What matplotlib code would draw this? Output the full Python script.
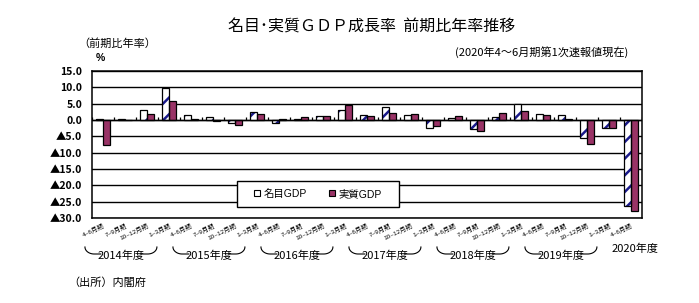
import matplotlib
matplotlib.use("Agg")
import matplotlib.pyplot as plt
import matplotlib.transforms as mtransforms
from matplotlib.patches import Rectangle, Patch
from matplotlib.lines import Line2D
import numpy as np

plt.rcParams['font.family'] = ['Liberation Sans', 'Noto Sans CJK JP', 'DejaVu Sans']
plt.rcParams['hatch.linewidth'] = 1.8

# ---- data ----
quarter_labels = ["4~6月期", "7~9月期", "10~12月期", "1~3月期"] * 6 + ["4~6月期"]
year_labels = ["2014年度", "2015年度", "2016年度", "2017年度", "2018年度", "2019年度"]
last_year_label = "2020年度"
nominal = [0.2, 0.2, 3.0, 9.8, 1.5, 0.8, -0.9, 2.6, -1.0, 0.4, 1.1, 3.1,
           1.5, 4.0, 1.4, -2.5, 0.5, -2.9, 0.8, 4.8, 1.8, 1.5, -5.5, -2.3, -26.3]
real = [-7.6, 0.1, 1.7, 5.8, 0.2, -0.3, -1.6, 1.7, 0.2, 0.8, 1.1, 4.7,
        1.1, 2.1, 1.8, -1.9, 1.1, -3.5, 2.0, 2.8, 1.5, 0.2, -7.4, -2.5, -27.8]
y_ticks = [15, 10, 5, 0, -5, -10, -15, -20, -25, -30]
y_ticklabels = ["15.0", "10.0", "5.0", "0.0", "▲5.0", "▲10.0", "▲15.0", "▲20.0", "▲25.0", "▲30.0"]
series_names = ["名目GDP", "実質GDP"]

W, H = 699, 303
fig = plt.figure(figsize=(W / 100, H / 100), dpi=100)
fig.patch.set_facecolor('white')

# axes placement in pixels
L, R, T, B = 92, 642, 71, 218
ax = fig.add_axes([L / W, 1 - B / H, (R - L) / W, (B - T) / H])

n = len(nominal)
x = np.arange(n)
bw = 0.3
navy = '#1a1a8c'
maroon = '#993366'

# nominal: white with navy hatch, black edge
ax.bar(x - bw / 2, nominal, bw, color='white', edgecolor=navy, hatch='//', linewidth=0, zorder=3)
ax.bar(x - bw / 2, nominal, bw, fill=False, edgecolor='black', linewidth=0.9, zorder=4)
# real: maroon, black edge
ax.bar(x + bw / 2, real, bw, color=maroon, edgecolor='black', linewidth=0.9, zorder=3)

ax.set_xlim(-0.5, n - 0.5)
ax.set_ylim(-30, 15)
ax.set_yticks(y_ticks)
ax.set_yticklabels(y_ticklabels, fontsize=7.5, fontweight='bold', family=['Noto Sans CJK JP'])
ax.yaxis.grid(True, color='black', linewidth=1.0, zorder=0)
ax.set_axisbelow(True)
ax.tick_params(axis='y', length=0, pad=7)

ax.set_xticks(x)
ax.set_xticklabels(quarter_labels, fontsize=4.6, rotation=25, ha='right', va='top',
                   rotation_mode='anchor')
ax.tick_params(axis='x', length=0, pad=3)
for s in ax.spines.values():
    s.set_linewidth(1.1)
    s.set_color('black')

# zero axis line with category boundary ticks
ax.axhline(0, color='black', linewidth=1.0, zorder=5)
ax.vlines(np.arange(n + 1) - 0.5, 0, 0.9, color='black', linewidth=0.9, zorder=5)

# legend box
bx0, by0, bx1, by1 = 237, 181, 399, 207
fig.patches.append(Rectangle((bx0 / W, 1 - by1 / H), (bx1 - bx0) / W, (by1 - by0) / H,
                             transform=fig.transFigure, facecolor='white', edgecolor='black',
                             linewidth=1.0, zorder=10))
handles = [Patch(facecolor='white', edgecolor='black', linewidth=0.8),
           Patch(facecolor=maroon, edgecolor='black', linewidth=0.8)]
leg = fig.legend(handles, series_names, loc='center', bbox_to_anchor=((bx0 + bx1) / 2 / W, 1 - (by0 + by1) / 2 / H),
                 ncol=2, frameon=False, fontsize=7.5, handlelength=0.55, handleheight=0.55,
                 handletextpad=0.3, columnspacing=2.2)
leg.set_zorder(11)

# texts
fig.text(372 / W, 1 - 27 / H, "名目･実質ＧＤＰ成長率  前期比年率推移", ha='center', va='center',
         fontsize=11.5, family=['Noto Sans CJK JP'])
fig.text(78 / W, 1 - 44 / H, "（前期比年率）", ha='left', va='center', fontsize=8,
         family=['Noto Sans CJK JP'])
fig.text(96 / W, 1 - 58 / H, "%", ha='left', va='center', fontsize=7.5, fontweight='bold')
fig.text(628 / W, 1 - 52 / H, "(2020年4～6月期第1次速報値現在)", ha='right', va='center',
         fontsize=8, family=['Noto Sans CJK JP'])
fig.text(68 / W, 1 - 283 / H, "（出所）内閣府", ha='left', va='center', fontsize=8,
         family=['Noto Sans CJK JP'])

# year group labels with brackets
tr = mtransforms.blended_transform_factory(ax.transData, fig.transFigure)
def fy(py):
    return 1 - py / H
ytop, ybot = 247, 254
t = np.linspace(0, np.pi / 2, 20)
for k, lab in enumerate(year_labels):
    xl = -0.82 + 4 * k
    xr = 2.45 + 4 * k
    xc = 0.82 + 4 * k
    rx = 0.42
    ax.text(xc, fy(255.5), lab, transform=tr, ha='center', va='center', fontsize=8,
            family=['Noto Sans CJK JP'])
    # left bracket
    lx = np.concatenate([xl + rx * (1 - np.cos(t)), [xl + rx + 0.3]])
    ly = np.concatenate([fy(ytop + (ybot - ytop) * np.sin(t)), [fy(ybot)]])
    fig.add_artist(Line2D(lx, ly, transform=tr, color='black', linewidth=0.8))
    # right bracket
    rxs = np.concatenate([[xr - rx - 0.3], xr - rx * (1 - np.cos(t[::-1]))])
    rys = np.concatenate([[fy(ybot)], fy(ytop + (ybot - ytop) * np.sin(t[::-1]))])
    fig.add_artist(Line2D(rxs, rys, transform=tr, color='black', linewidth=0.8))

ax.text(24.2, fy(249), last_year_label, transform=tr, ha='center', va='center', fontsize=8,
        family=['Noto Sans CJK JP'])

fig.savefig("out.png", dpi=100)
